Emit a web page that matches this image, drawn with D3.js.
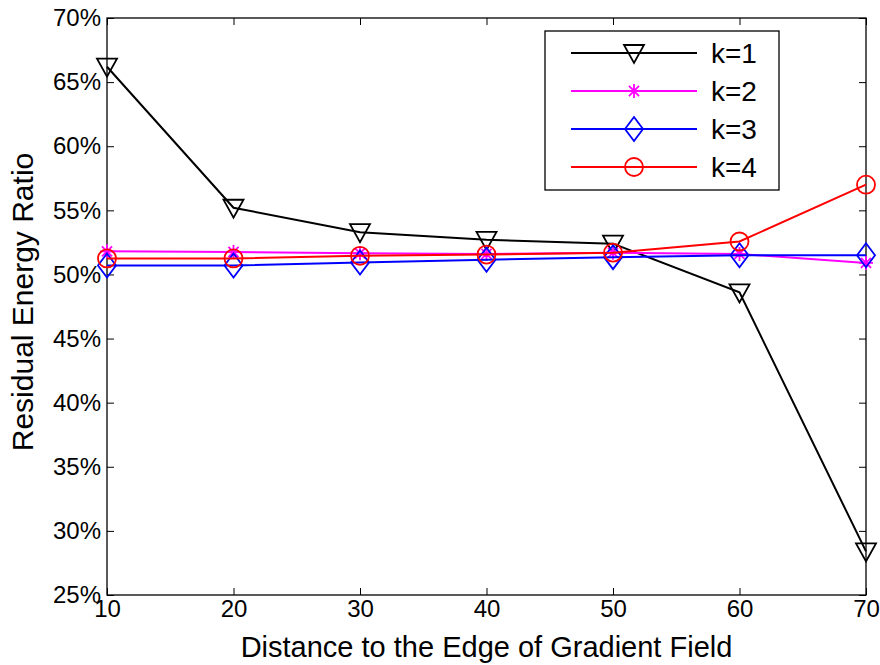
<!DOCTYPE html>
<html><head><meta charset="utf-8">
<script src="https://cdn.jsdelivr.net/npm/d3@7"></script>
<style>body{margin:0;background:#fff}svg{display:block}text{font-family:"Liberation Sans",Arial,sans-serif;fill:#000}</style>
</head><body>
<svg id="c" width="880" height="665"></svg>
<script>
const xValues = [10, 20, 30, 40, 50, 60, 70];
const k1 = [66.2, 55.2, 53.3, 52.7, 52.4, 48.6, 28.4];
const k2 = [51.8, 51.75, 51.65, 51.6, 51.7, 51.6, 50.9];
const k3 = [50.7, 50.7, 50.93, 51.15, 51.35, 51.5, 51.5];
const k4 = [51.25, 51.25, 51.45, 51.55, 51.7, 52.57, 57.0];
const seriesNames = ["k=1", "k=2", "k=3", "k=4"];
const yTicks = [25, 30, 35, 40, 45, 50, 55, 60, 65, 70];
const xTicks = [10, 20, 30, 40, 50, 60, 70];

const svg = d3.select("#c");
const L = 107, R = 866, T = 18, B = 595;
const x = d3.scaleLinear().domain([10, 70]).range([L, R]);
const y = d3.scaleLinear().domain([25, 70]).range([B, T]);

const series = [
  {name: seriesNames[0], vals: k1, color: "#000000", marker: "tri"},
  {name: seriesNames[1], vals: k2, color: "#ff00ff", marker: "star"},
  {name: seriesNames[2], vals: k3, color: "#0000ff", marker: "dia"},
  {name: seriesNames[3], vals: k4, color: "#ff0000", marker: "circ"}
];

// axes with inside ticks
const tl = 7;
svg.append("g").attr("transform", `translate(0,${B})`)
  .call(d3.axisBottom(x).tickValues(xTicks).tickSize(-tl).tickPadding(10).tickFormat(d3.format("d")))
  .call(g => { g.select(".domain").remove(); g.selectAll("text").attr("font-size", 24).attr("dy", "0.71em").attr("y", 5); });
svg.append("g").attr("transform", `translate(0,${T})`)
  .call(d3.axisTop(x).tickValues(xTicks).tickSize(-tl).tickFormat(""))
  .call(g => g.select(".domain").remove());
svg.append("g").attr("transform", `translate(${L},0)`)
  .call(d3.axisLeft(y).tickValues(yTicks).tickSize(-tl).tickPadding(6).tickFormat(d => d + "%"))
  .call(g => { g.select(".domain").remove(); g.selectAll("text").attr("font-size", 24); });
svg.append("g").attr("transform", `translate(${R},0)`)
  .call(d3.axisRight(y).tickValues(yTicks).tickSize(-tl).tickFormat(""))
  .call(g => g.select(".domain").remove());
svg.selectAll(".tick line").attr("stroke", "#000").attr("stroke-width", 1);
svg.append("rect").attr("x", L).attr("y", T).attr("width", R - L).attr("height", B - T)
  .attr("fill", "none").attr("stroke", "#000").attr("stroke-width", 1.3);

// titles
svg.append("text").attr("x", (L + R) / 2).attr("y", 657).attr("text-anchor", "middle")
  .attr("font-size", 29).text("Distance to the Edge of Gradient Field");
svg.append("text").attr("transform", `translate(33,302) rotate(-90)`).attr("text-anchor", "middle")
  .attr("font-size", 30).text("Residual Energy Ratio");

function drawMarker(g, type, cx, cy, color) {
  if (type === "tri") {
    g.append("path").attr("d", `M${cx-10},${cy-8}L${cx+10},${cy-8}L${cx},${cy+10}Z`)
      .attr("fill", "none").attr("stroke", color).attr("stroke-width", 1.8);
  } else if (type === "circ") {
    g.append("circle").attr("cx", cx).attr("cy", cy).attr("r", 9)
      .attr("fill", "none").attr("stroke", color).attr("stroke-width", 1.8);
  } else if (type === "dia") {
    g.append("path").attr("d", `M${cx},${cy-12}L${cx+9},${cy}L${cx},${cy+12}L${cx-9},${cy}Z`)
      .attr("fill", "none").attr("stroke", color).attr("stroke-width", 1.8);
  } else if (type === "star") {
    const r = 7;
    let d = `M${cx-r},${cy}L${cx+r},${cy}M${cx},${cy-r}L${cx},${cy+r}`;
    const a = r * 0.72;
    d += `M${cx-a},${cy-a}L${cx+a},${cy+a}M${cx-a},${cy+a}L${cx+a},${cy-a}`;
    g.append("path").attr("d", d).attr("fill", "none").attr("stroke", color).attr("stroke-width", 1.8);
  }
}

const line = d3.line().x((d, i) => x(xValues[i])).y(d => y(d));
series.forEach(s => {
  const g = svg.append("g");
  g.append("path").datum(s.vals).attr("d", line).attr("fill", "none")
    .attr("stroke", s.color).attr("stroke-width", 2);
  s.vals.forEach((v, i) => drawMarker(g, s.marker, x(xValues[i]), y(v), s.color));
});

// legend
const lg = svg.append("g");
lg.append("rect").attr("x", 545).attr("y", 31).attr("width", 234).attr("height", 159)
  .attr("fill", "#fff").attr("stroke", "#000").attr("stroke-width", 1.3);
series.forEach((s, i) => {
  const yy = 53 + i * 38;
  lg.append("line").attr("x1", 571).attr("x2", 697).attr("y1", yy).attr("y2", yy)
    .attr("stroke", s.color).attr("stroke-width", 2);
  drawMarker(lg, s.marker, 634, yy, s.color);
  lg.append("text").attr("x", 711).attr("y", yy).attr("dy", "0.36em").attr("font-size", 28).text(s.name);
});
</script>
</body></html>
